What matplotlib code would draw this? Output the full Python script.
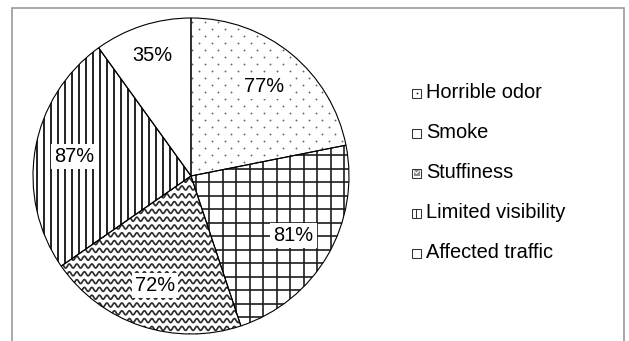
import numpy as np
import matplotlib
matplotlib.use("Agg")
import matplotlib.pyplot as plt
from matplotlib.patches import Rectangle, Wedge
from matplotlib.collections import LineCollection

# Survey responses (share of respondents naming each effect)
categories = ["Horrible odor", "Smoke", "Stuffiness", "Limited visibility", "Affected traffic"]
values = [77, 81, 72, 87, 35]
value_labels = [f"{v}%" for v in values]

W, H = 629, 341
fig = plt.figure(figsize=(W / 100, H / 100), dpi=100)
ax = fig.add_axes([0, 0, 1, 1])

FONT = ["Liberation Sans", "DejaVu Sans"]
FS = 14.4

cx, cy, R = 191, H - 176, 158

wedges, _ = ax.pie(values, startangle=90, counterclock=False, center=(cx, cy),
                   radius=R, colors=["white"] * len(values),
                   wedgeprops=dict(edgecolor="none", linewidth=0))
ax.set_xlim(0, W)
ax.set_ylim(0, H)
ax.set_aspect("equal")
ax.axis("off")


def add_clipped(artist, wedge):
    artist.set_clip_path(wedge)
    artist.set_zorder(2)
    ax.add_artist(artist)


x0, x1 = cx - R - 10, cx + R + 10
y0, y1 = cy - R - 10, cy + R + 10

# dotted texture
dx, dy = 13, 7
pts = []
for j, yy in enumerate(np.arange(y0, y1, dy)):
    off = 0 if j % 2 == 0 else dx / 2
    for xx in np.arange(x0 + off, x1, dx):
        pts.append((xx, yy))
pts = np.array(pts)
sc = ax.scatter(pts[:, 0], pts[:, 1], s=1.8, c="#666666", linewidths=0)
sc.set_clip_path(wedges[0])
sc.set_zorder(2)

# plaid grid texture
g = 13.5
segs = [[(x, y0), (x, y1)] for x in np.arange(cx - 9, x1, g)] + \
       [[(x, y0), (x, y1)] for x in np.arange(cx - 9 - g, x0, -g)] + \
       [[(x0, y), (x1, y)] for y in np.arange(y0, y1, g)]
add_clipped(LineCollection(segs, colors="#1c1c1c", linewidths=1.2), wedges[1])

# wavy texture
xs = np.linspace(x0, x1, 900)
wave_segs = []
for yy in np.arange(y0, y1, 7.8):
    wave_segs.append(np.column_stack([xs, yy + 2.0 * np.sin(2 * np.pi * xs / 7.5)]))
add_clipped(LineCollection(wave_segs, colors="#2e2e2e", linewidths=1.25), wedges[2])

# vertical stripes
vsegs = [[(x, y0), (x, y1)] for x in np.arange(x0, x1, 7)]
add_clipped(LineCollection(vsegs, colors="#111111", linewidths=1.3), wedges[3])

# slice outlines on top of the textures
for w in wedges:
    ax.add_patch(Wedge(w.center, w.r, w.theta1, w.theta2, fill=False,
                       edgecolor="black", linewidth=0.8, zorder=3))

# value labels inside the slices
label_dist = [0.73, 0.75, 0.73, 0.75, 0.80]
for w, txt, d in zip(wedges, value_labels, label_dist):
    mid = np.deg2rad((w.theta1 + w.theta2) / 2)
    ax.text(cx + d * R * np.cos(mid), cy + d * R * np.sin(mid), txt,
            ha="center", va="center", fontsize=FS, family=FONT, zorder=4,
            bbox=dict(boxstyle="square,pad=0.15", fc="white", ec="none"))

# legend
for i, name in enumerate(categories):
    ly = H - (93 + 40 * i)
    ax.add_patch(Rectangle((412, ly - 4.5), 9, 9, fc="white", ec="#333333",
                           lw=0.75, zorder=3))
    if i == 0:
        ax.scatter([416.5], [ly], s=2, c="#333333", zorder=4, linewidths=0)
    elif i == 2:
        ax.add_patch(Rectangle((413.5, ly - 3), 6, 6, fc="#8a8a8a", ec="none", zorder=4))
        ax.plot([414, 416.5, 419], [ly + 2, ly - 0.5, ly + 2], color="white", lw=0.8, zorder=5)
    elif i == 3:
        ax.plot([416, 416], [ly - 4.5, ly + 4.5], color="#333333", lw=0.75, zorder=4)
    ax.text(426, ly, name, ha="left", va="center", fontsize=FS, family=FONT)

# outer frame
ax.plot([12, 12, 624, 624], [-5, H - 8, H - 8, -5], color="#9a9a9a", lw=1.2,
        clip_on=False, solid_joinstyle="miter")

fig.savefig("out.png", dpi=100)
